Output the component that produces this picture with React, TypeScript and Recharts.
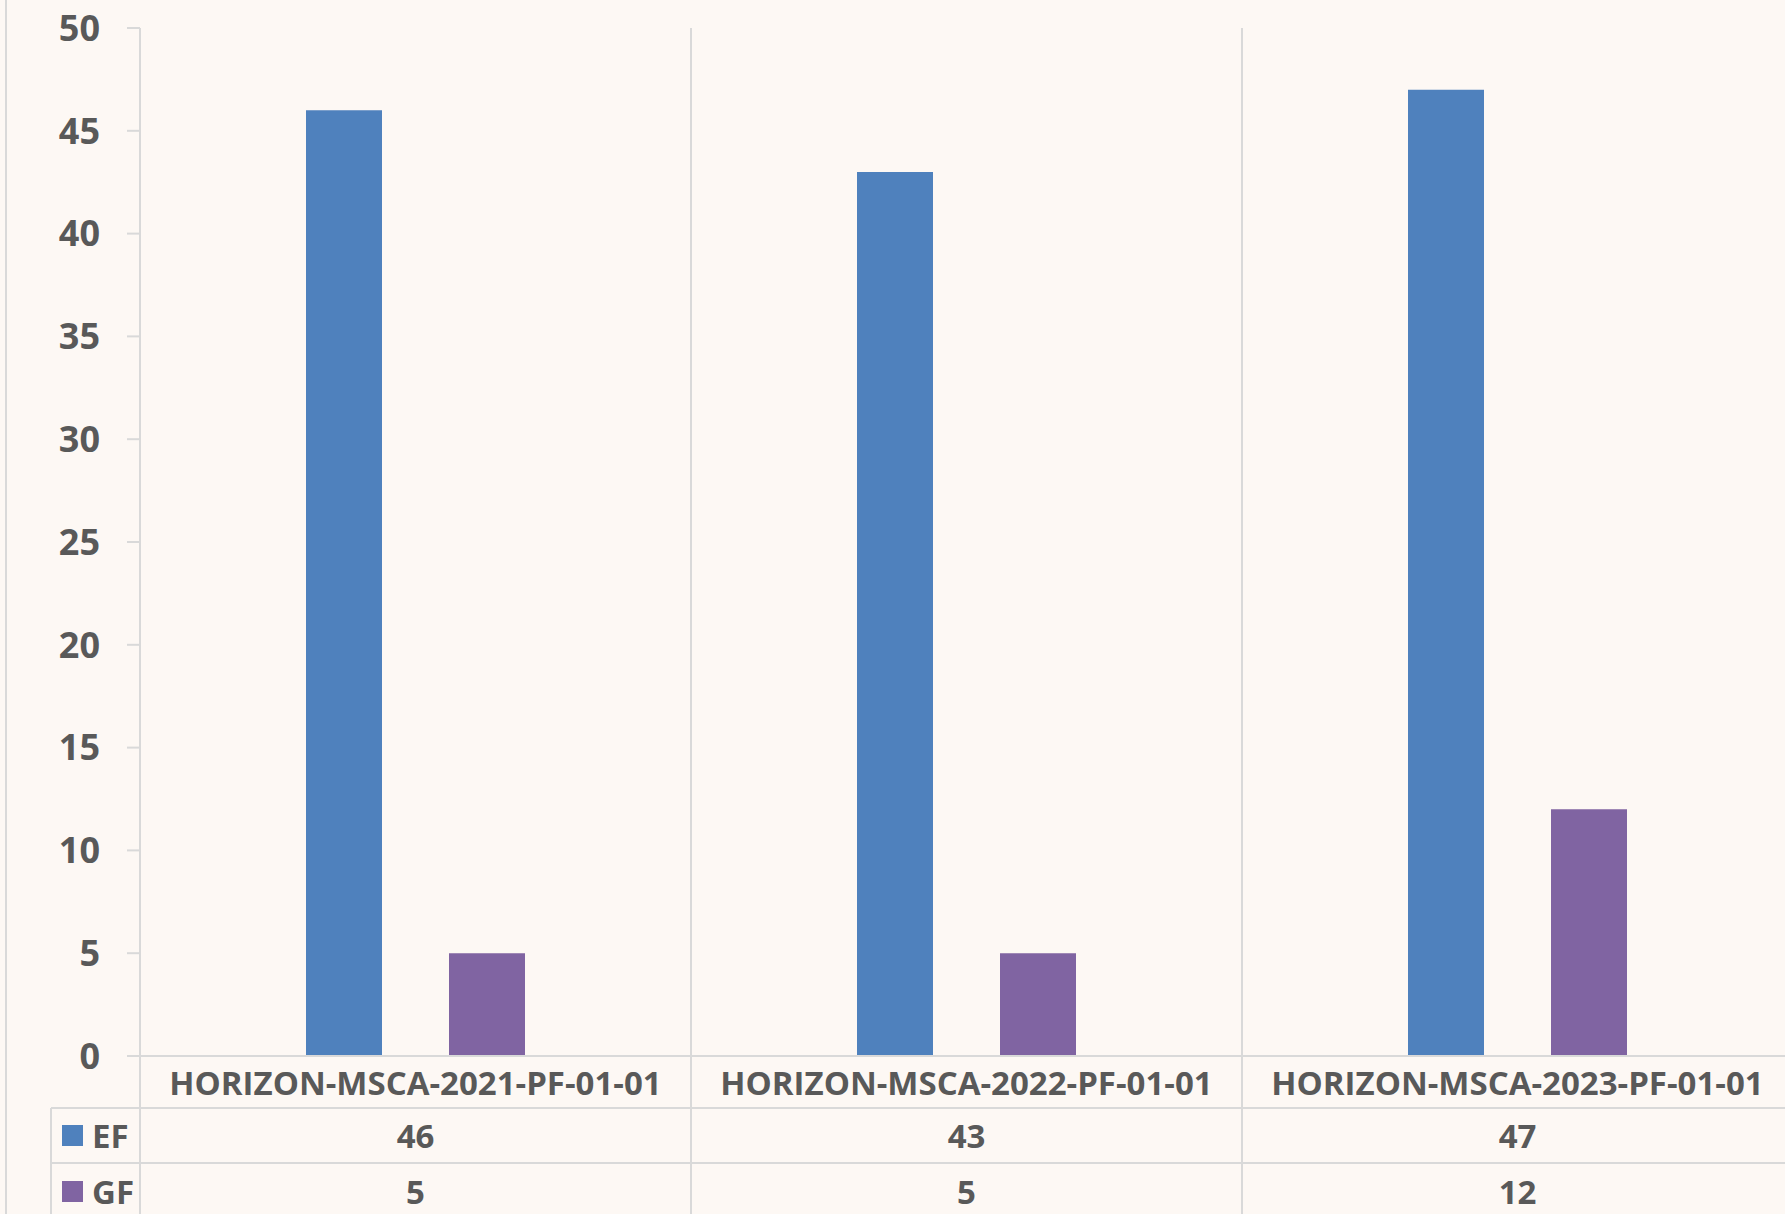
import { BarChart, Bar, XAxis, YAxis } from "recharts"

// Values
const categories = ["HORIZON-MSCA-2021-PF-01-01", "HORIZON-MSCA-2022-PF-01-01", "HORIZON-MSCA-2023-PF-01-01"]
const efValues = [46, 43, 47]
const gfValues = [5, 5, 12]
const seriesNames = ["EF", "GF"]
const yTicks = [0, 5, 10, 15, 20, 25, 30, 35, 40, 45, 50]

const data = categories.map((name, i) => ({ name, EF: efValues[i], GF: gfValues[i] }))

const BG = "#fdf8f4"
const TEXT = "#595959"
const LINE = "#d9d9d9"
const COLORS = ["#4f81bd", "#8064a2"]
const FONT = "'Open Sans', 'Noto Sans', sans-serif"

const W = 1800
const H = 1214
const TOP = 28
const LEGEND_LEFT = 51

function TableTick(props: any) {
  const { x, y, payload, index, width, visibleTicksCount } = props
  const half = (width || 1653) / (visibleTicksCount || 3) / 2
  const left = x - half
  const right = x + half
  const row = data[index]
  const textProps = {
    textAnchor: "middle" as const,
    dominantBaseline: "central" as const,
    fontFamily: FONT,
    fontWeight: 700,
    fontSize: 33,
    fill: TEXT,
  }

  return (
    <g>
      {/* category boundary line, from the plot top down through the table */}
      <line x1={right} x2={right} y1={TOP} y2={H} stroke={LINE} strokeWidth={2} />
      {index === 0 && <line x1={left} x2={left} y1={y} y2={H} stroke={LINE} strokeWidth={2} />}
      {index === 0 && <line x1={LEGEND_LEFT} x2={LEGEND_LEFT} y1={y + 52} y2={H} stroke={LINE} strokeWidth={2} />}

      <text x={x} y={y + 26} {...textProps}>{payload.value}</text>

      <line x1={index === 0 ? LEGEND_LEFT : left} x2={right} y1={y + 52} y2={y + 52} stroke={LINE} strokeWidth={2} />
      <line x1={index === 0 ? LEGEND_LEFT : left} x2={right} y1={y + 107} y2={y + 107} stroke={LINE} strokeWidth={2} />

      <text x={x} y={y + 79} {...textProps}>{row.EF}</text>
      <text x={x} y={y + 135} {...textProps}>{row.GF}</text>

      {/* legend keys in the first column of the data table */}
      {index === 0 &&
        seriesNames.map((s, i) => (
          <g key={s}>
            <rect x={62} y={y + 69 + i * 56} width={21} height={21} fill={COLORS[i]} />
            <text x={92} y={y + 79 + i * 56} {...textProps} textAnchor="start">{s}</text>
          </g>
        ))}
    </g>
  )
}

export default function App() {
  return (
    <div
      style={{
        position: "absolute",
        left: 0,
        top: 0,
        width: 1785,
        height: H,
        overflow: "hidden",
        background: BG,
      }}
    >
      <div style={{ position: "absolute", left: 5, top: 0, width: 2, height: H, background: LINE }} />
      <BarChart
        width={W}
        height={H}
        data={data}
        margin={{ top: TOP, right: 7, left: 0, bottom: 0 }}
        barSize={76}
        barGap={67}
      >
        <XAxis
          dataKey="name"
          height={158}
          tickSize={0}
          tickMargin={0}
          tickLine={false}
          axisLine={{ stroke: LINE, strokeWidth: 2 }}
          tick={<TableTick />}
          interval={0}
        />
        <YAxis
          domain={[0, 50]}
          ticks={yTicks}
          width={140}
          tickSize={13}
          tickMargin={27}
          axisLine={{ stroke: LINE, strokeWidth: 2 }}
          tickLine={{ stroke: LINE, strokeWidth: 2 }}
          tick={{ fontFamily: FONT, fontWeight: 700, fontSize: 36, fill: TEXT }}
        />
        <Bar dataKey="EF" fill={COLORS[0]} isAnimationActive={false} />
        <Bar dataKey="GF" fill={COLORS[1]} isAnimationActive={false} />
      </BarChart>
    </div>
  )
}
